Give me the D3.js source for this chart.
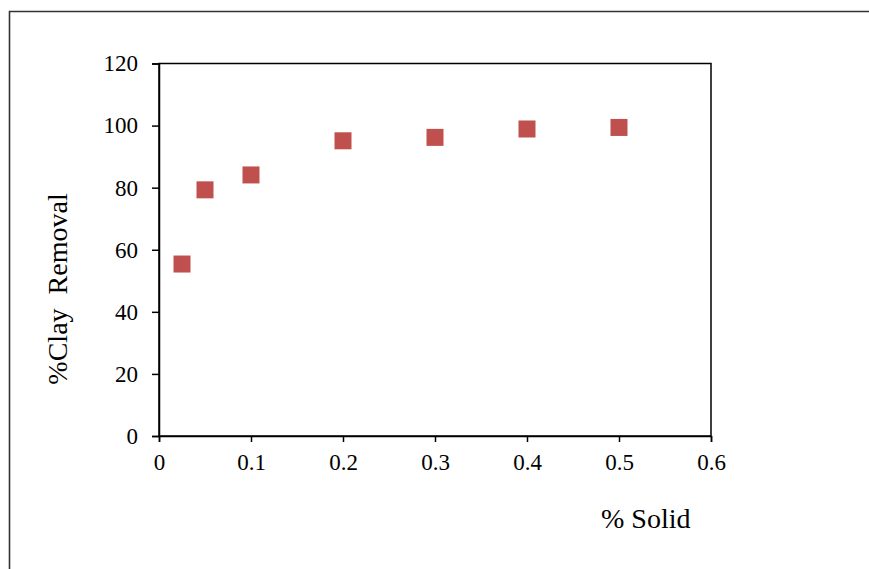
<!DOCTYPE html>
<html><head><meta charset="utf-8">
<script src="https://cdn.jsdelivr.net/npm/d3@7"></script>
<style>body{margin:0;background:#fff}svg{display:block}</style>
</head><body>
<script>
const solid = [0.025, 0.05, 0.1, 0.2, 0.3, 0.4, 0.5];
const clayRemoval = [55.4, 79.3, 84.1, 95.1, 96.2, 98.9, 99.4];
const xTicks = [0, 0.1, 0.2, 0.3, 0.4, 0.5, 0.6];
const yTicks = [0, 20, 40, 60, 80, 100, 120];

const W = 869, H = 569;
const svg = d3.select("body").append("svg").attr("width", W).attr("height", H);

// outer frame
svg.append("path").attr("d", `M9.5,${H} V11.5 H${W}`)
  .attr("fill", "none").attr("stroke", "#333").attr("stroke-width", 1.6);

const L = 159, R = 711, T = 63.5, B = 436;
const x = d3.scaleLinear().domain([0, 0.6]).range([L, R]);
const y = d3.scaleLinear().domain([0, 120]).range([B, T]);

const font = "'Liberation Serif','Times New Roman',serif";

svg.append("rect").attr("x", L).attr("y", T).attr("width", R - L).attr("height", B - T)
  .attr("fill", "none").attr("stroke", "#000").attr("stroke-width", 1.5);

const xa = svg.append("g").attr("transform", `translate(0,${B})`)
  .call(d3.axisBottom(x).tickValues(xTicks).tickSize(6).tickPadding(12).tickFormat(d => d3.format("")(d)));
const ya = svg.append("g").attr("transform", `translate(${L},0)`)
  .call(d3.axisLeft(y).tickValues(yTicks).tickSize(7).tickPadding(14));
[xa, ya].forEach(g => {
  g.select(".domain").attr("stroke", "#000").attr("stroke-width", 1.5);
  g.selectAll(".tick line").attr("stroke", "#000").attr("stroke-width", 1.5);
  g.selectAll(".tick text").attr("font-family", font).attr("font-size", 23).attr("fill", "#000");
});

svg.append("g").selectAll("rect").data(solid).join("rect")
  .attr("x", (d, i) => x(d) - 8.5).attr("y", (d, i) => y(clayRemoval[i]) - 8.5)
  .attr("width", 17).attr("height", 17).attr("fill", "#c0504d");

svg.append("text").attr("x", 601).attr("y", 528).attr("font-family", font)
  .attr("font-size", 28).attr("fill", "#000").text("% Solid");

svg.append("text").attr("transform", "translate(67,289) rotate(-90)").attr("text-anchor", "middle")
  .attr("font-family", font).attr("font-size", 28).attr("fill", "#000").text("%Clay  Removal")
  .attr("xml:space", "preserve").style("white-space", "pre");
</script>
</body></html>
